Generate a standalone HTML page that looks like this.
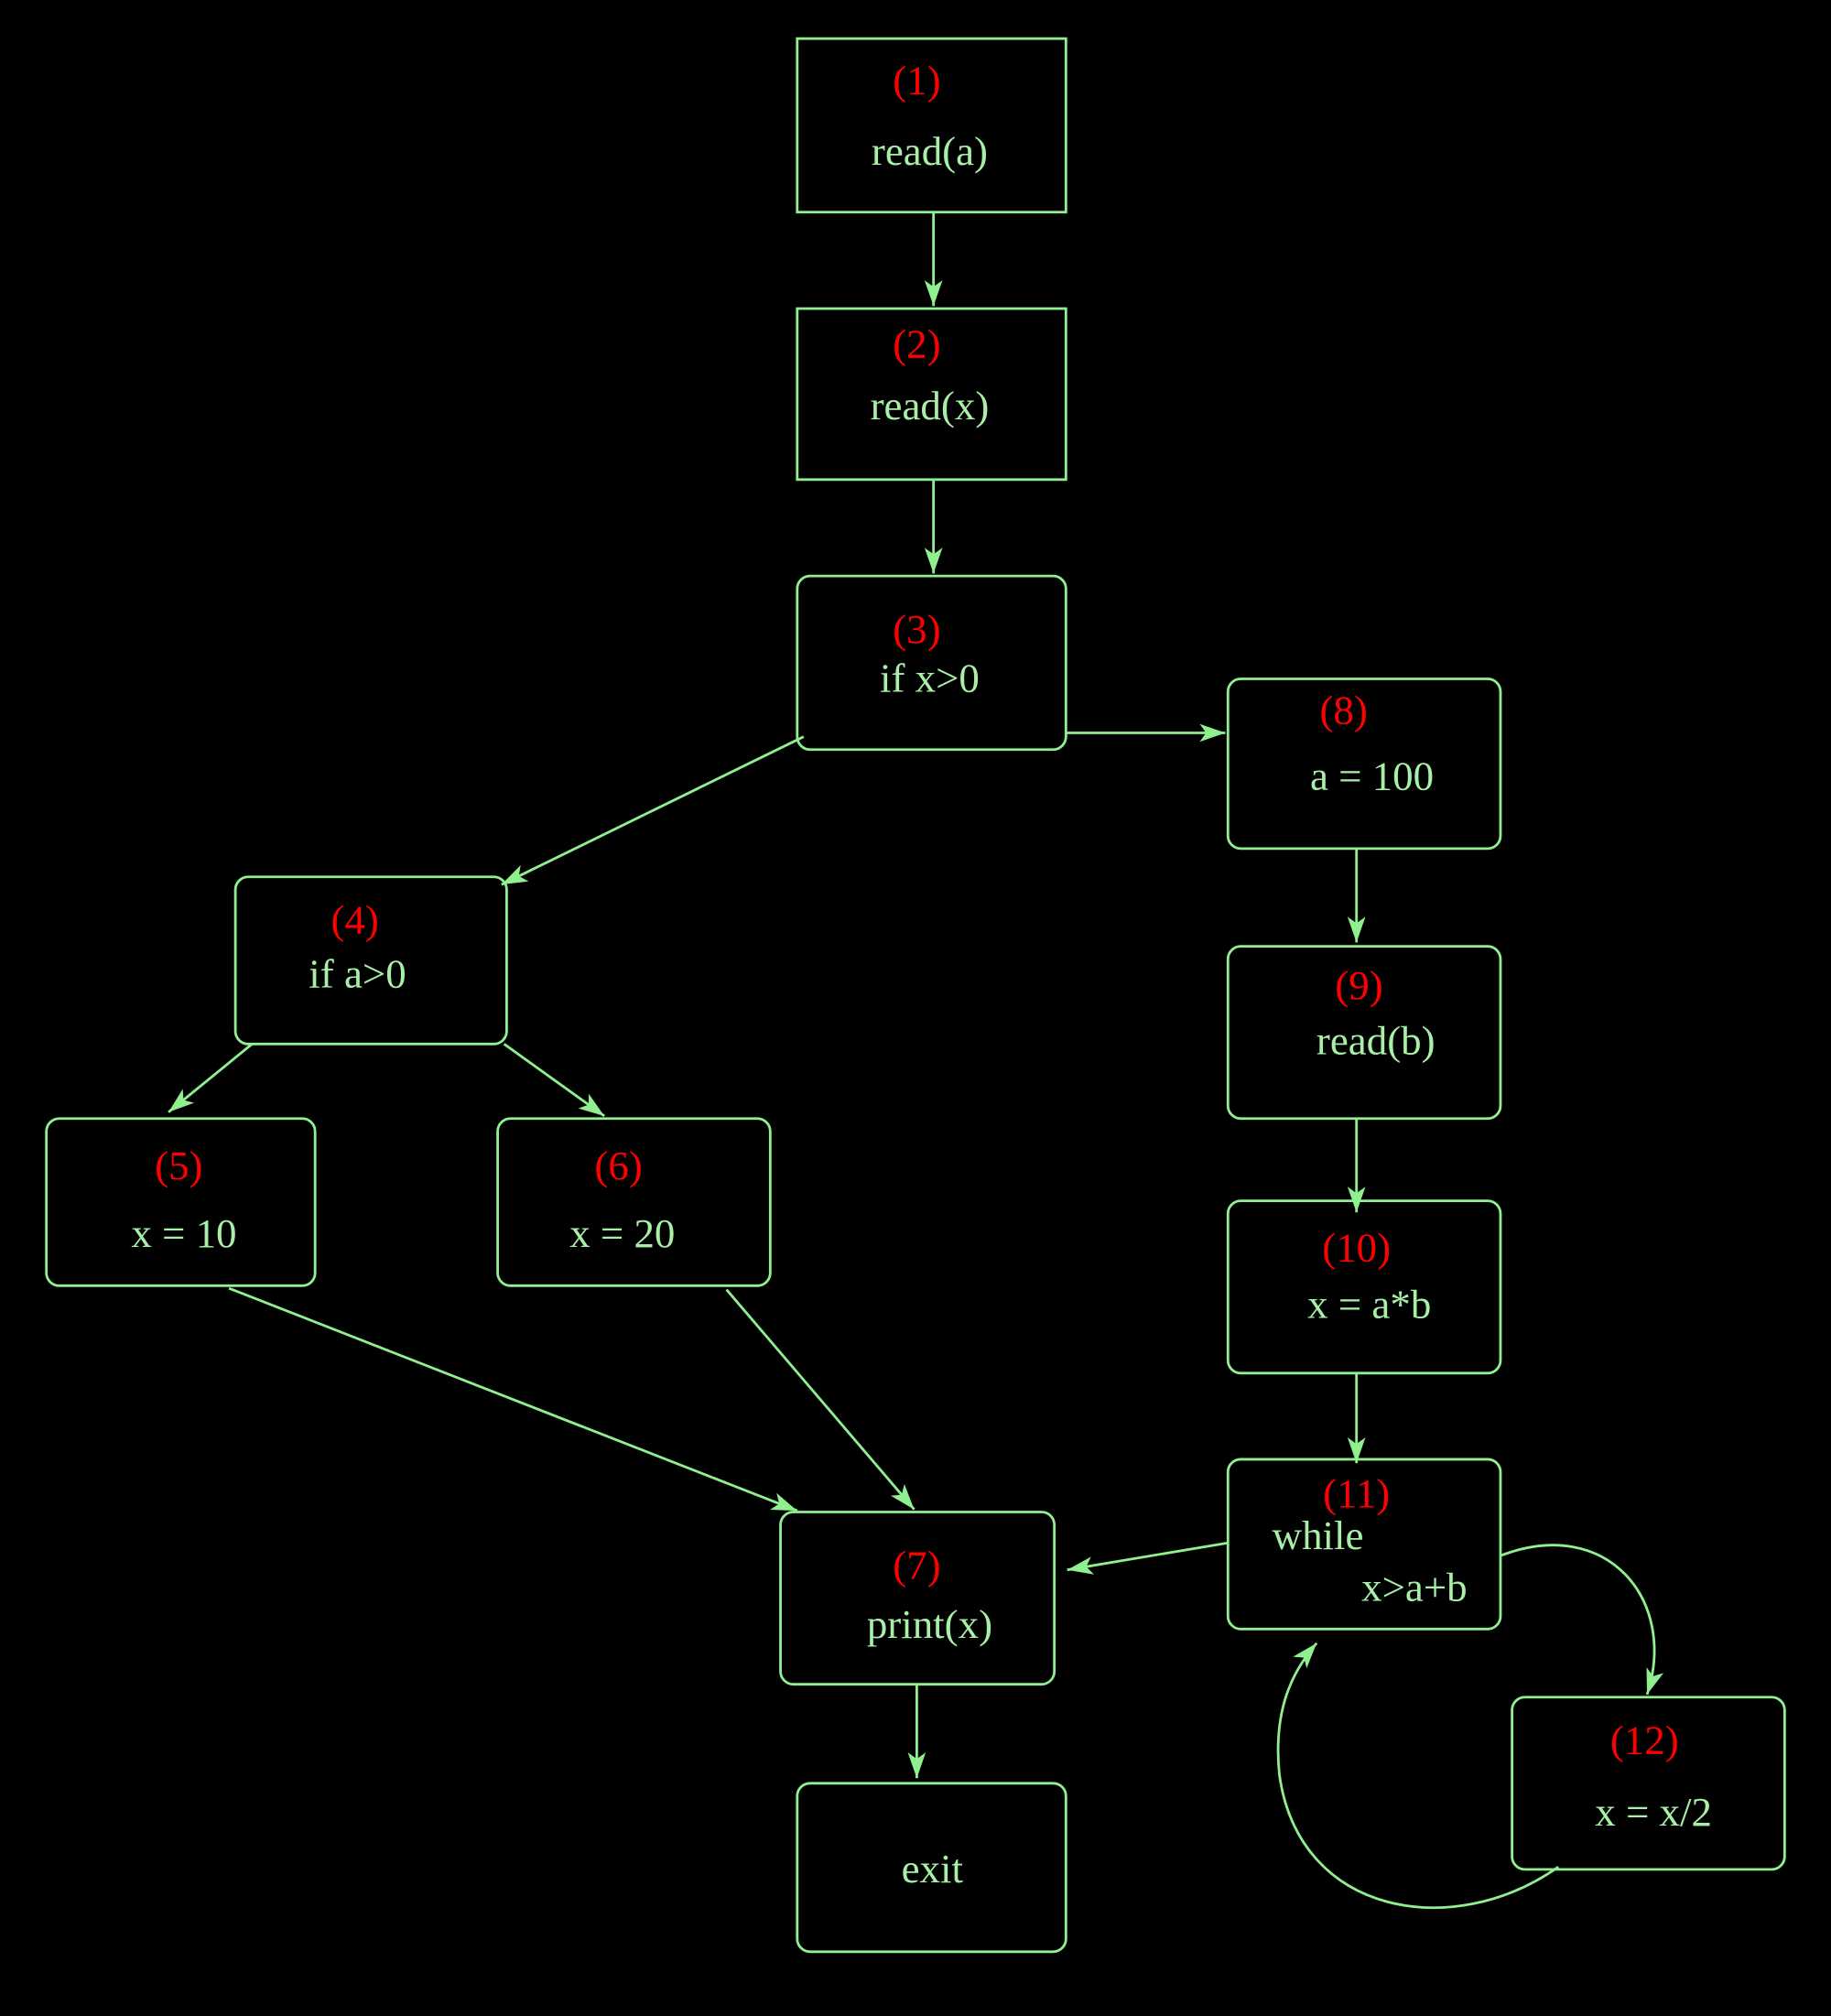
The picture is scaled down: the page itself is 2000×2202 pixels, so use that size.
<!DOCTYPE html>
<html><head><meta charset="utf-8"><style>
html,body{margin:0;padding:0;background:#000;}
svg{display:block;}
text{font-family:"Liberation Serif",serif;font-size:32px;text-anchor:middle;}
.r{fill:#ff0000;}
.g{fill:#a8f0a8;}
</style></head><body>
<svg width="2000" height="2202" viewBox="0 0 1424 1568" xmlns="http://www.w3.org/2000/svg">
<defs>
<marker id="a" markerWidth="10" markerHeight="10" refX="9" refY="5" orient="auto" markerUnits="userSpaceOnUse" viewBox="0 0 10 10">
<path d="M0,0 L10,5 L0,10 L3,5 Z" fill="#90f090" transform="scale(1)"/>
</marker>
<marker id="b" markerWidth="22" markerHeight="14" refX="20" refY="7" orient="auto" markerUnits="userSpaceOnUse">
<path d="M0,0 L20,7 L0,14 L5,7 Z" fill="#90f090"/>
</marker>
</defs>
<rect width="1424" height="1568" fill="#000"/>
<g fill="none" stroke="#90f090" stroke-width="2">
<rect x="620" y="30" width="209" height="135"/>
<rect x="620" y="240" width="209" height="133"/>
<rect x="620" y="448" width="209" height="135" rx="10"/>
<rect x="955" y="528" width="212" height="132" rx="10"/>
<rect x="183" y="682" width="211" height="130" rx="10"/>
<rect x="955" y="736" width="212" height="134" rx="10"/>
<rect x="36" y="870" width="209" height="130" rx="10"/>
<rect x="387" y="870" width="212" height="130" rx="10"/>
<rect x="955" y="934" width="212" height="134" rx="10"/>
<rect x="955" y="1135" width="212" height="132" rx="10"/>
<rect x="607" y="1176" width="213" height="134" rx="10"/>
<rect x="1176" y="1320" width="212" height="134" rx="10"/>
<rect x="620" y="1387" width="209" height="131" rx="10"/>
</g>
<g fill="none" stroke="#90f090" stroke-width="2" marker-end="url(#b)">
<line x1="726" y1="165" x2="726" y2="238"/>
<line x1="726" y1="373" x2="726" y2="446"/>
<line x1="829" y1="570" x2="953" y2="570"/>
<line x1="625" y1="573" x2="390" y2="688"/>
<line x1="196" y1="812" x2="131" y2="865"/>
<line x1="392" y1="812" x2="470" y2="868"/>
<line x1="1055" y1="660" x2="1055" y2="733"/>
<line x1="1055" y1="870" x2="1055" y2="943"/>
<line x1="1055" y1="1068" x2="1055" y2="1138"/>
<line x1="178" y1="1002" x2="620" y2="1175"/>
<line x1="565" y1="1003" x2="711" y2="1174"/>
<line x1="955" y1="1200" x2="830" y2="1221"/>
<line x1="713" y1="1310" x2="713" y2="1383"/>
<path d="M1167,1210 C1250,1178 1305,1245 1281,1318"/>
<path d="M1212,1452 C1130,1510 1010,1490 995,1380 C990,1330 1005,1300 1024,1278"/>
</g>
<text class="r" x="713" y="73">(1)</text>
<text class="g" x="723" y="128">read(a)</text>
<text class="r" x="713" y="278">(2)</text>
<text class="g" x="723" y="326">read(x)</text>
<text class="r" x="713" y="500">(3)</text>
<text class="g" x="723" y="538">if x&gt;0</text>
<text class="r" x="1045" y="563">(8)</text>
<text class="g" x="1067" y="614">a = 100</text>
<text class="r" x="276" y="726">(4)</text>
<text class="g" x="278" y="768">if a&gt;0</text>
<text class="r" x="1057" y="777">(9)</text>
<text class="g" x="1070" y="820">read(b)</text>
<text class="r" x="139" y="917">(5)</text>
<text class="g" x="143" y="970">x = 10</text>
<text class="r" x="481" y="917">(6)</text>
<text class="g" x="484" y="970">x = 20</text>
<text class="r" x="1055" y="981">(10)</text>
<text class="g" x="1065" y="1025">x = a*b</text>
<text class="r" x="1055" y="1172">(11)</text>
<text class="g" x="1025" y="1205">while</text>
<text class="g" x="1100" y="1245">x&gt;a+b</text>
<text class="r" x="713" y="1228">(7)</text>
<text class="g" x="723" y="1274">print(x)</text>
<text class="r" x="1279" y="1364">(12)</text>
<text class="g" x="1286" y="1420">x = x/2</text>
<text class="g" x="725" y="1464">exit</text>
</svg>
</body></html>
